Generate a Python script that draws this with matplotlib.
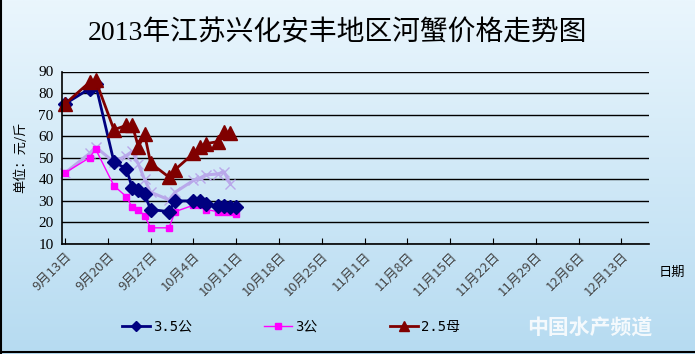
import numpy as np
import matplotlib
matplotlib.use('Agg')
import matplotlib.pyplot as plt

plt.rcParams['font.family'] = ['Liberation Serif', 'Noto Sans CJK SC', 'DejaVu Sans']

# days counted from 9月13日
tick_labels = ['9月13日', '9月20日', '9月27日', '10月4日', '10月11日', '10月18日', '10月25日',
               '11月1日', '11月8日', '11月15日', '11月22日', '11月29日', '12月6日', '12月13日']

days_35 = [0, 4, 5, 8, 10, 11, 12, 13, 14, 17, 18, 21, 22, 23, 25, 26, 27, 28]
price_35 = [75, 82, 84, 48, 45, 36, 35, 33, 26, 25, 30, 30, 30, 28.5, 27.5, 27.5, 27, 27]

days_3 = [0, 4, 5, 8, 10, 11, 12, 13, 14, 17, 18, 21, 22, 23, 25, 26, 27, 28]
price_3 = [43, 50, 54, 37, 32, 27, 26, 23, 17.5, 17.5, 25, 28, 28, 26, 25, 25, 25, 24]

days_25 = [0, 4, 5, 8, 10, 11, 12, 13, 14, 17, 18, 21, 22, 23, 25, 26, 27]
price_25 = [75, 85, 86, 63, 65, 65, 55, 61, 47.5, 41, 44.5, 52, 55, 56.5, 57.5, 62, 61.5]

# unlabeled lavender series
days_x = [0, 4, 5, 8, 10, 11, 12, 13, 14, 17, 18, 21, 22, 23, 25, 26, 27]
price_x = [43, 52, 55, 48, 51, 53, 47, 40, 34, 30.5, 34, 39.5, 40.5, 42, 42.5, 43.5, 38]

fig = plt.figure(figsize=(6.95, 3.54), dpi=100)

# gradient background
bg = fig.add_axes([0, 0, 1, 1], zorder=-10)
top = np.array([234, 246, 253]) / 255
bot = np.array([182, 219, 241]) / 255
grad = np.linspace(0, 1, 256)[:, None, None] * (bot - top) + top
bg.imshow(np.repeat(grad, 2, axis=1), aspect='auto', extent=[0, 1, 0, 1])
bg.axis('off')
bg.plot([0.002, 0.002], [0, 1], color='black', lw=1.5)
bg.plot([0, 1], [0.006, 0.006], color='black', lw=1.5)
bg.set_xlim(0, 1)
bg.set_ylim(0, 1)

ax = fig.add_axes([62 / 695, 1 - 244 / 354, 587 / 695, 172.5 / 354])
ax.patch.set_alpha(0)

ax.plot(days_x, price_x, color='#b9a8ea', lw=2.2, marker='x', ms=7, mew=1, clip_on=False)
ax.plot(days_3, price_3, color='#ff00ff', lw=1, marker='s', ms=5, clip_on=False, label='3公')
ax.plot(days_35, price_35, color='#000080', lw=2, marker='D', ms=7, clip_on=False, label='3.5公')
ax.plot(days_25, price_25, color='#800000', lw=2, marker='^', ms=10, clip_on=False, label='2.5母')

ax.set_ylim(10, 90)
ax.set_xlim(-0.5, 95.5)
ax.set_yticks(range(10, 91, 10))
ax.set_xticks(range(0, 92, 7))
ax.set_xticklabels(tick_labels, rotation=45, ha='right', va='top', rotation_mode='anchor',
                   fontsize=9.5, color='#444444', family=['Noto Sans CJK SC'])
ax.tick_params(axis='y', labelsize=11, length=0, pad=6)
ax.tick_params(axis='x', length=4, direction='in', pad=4)
ax.yaxis.grid(True, color='black', lw=1)
ax.set_axisbelow(True)
for s in ['top', 'right']:
    ax.spines[s].set_visible(False)
ax.spines['left'].set_linewidth(1.2)
ax.spines['bottom'].set_linewidth(1.2)
ax.set_ylabel('单位：元/斤', fontsize=9.5, family=['Noto Sans CJK SC'], labelpad=8)

fig.text(337 / 695, 1 - 33 / 354, '2013年江苏兴化安丰地区河蟹价格走势图', ha='center', va='center',
         fontsize=20)
fig.text(672 / 695, 1 - 272 / 354, '日期', ha='center', va='center', fontsize=9.5,
         family=['Noto Sans CJK SC'])
fig.text(590 / 695, 1 - 328 / 354, '中国水产频道', ha='center', va='center', fontsize=15,
         color='white', alpha=0.85, style='italic', fontweight='bold', family=['Noto Sans CJK SC'])

h, l = ax.get_legend_handles_labels()
order = [1, 0, 2]
fig.legend([h[i] for i in order], [l[i] for i in order], loc='center', ncol=3,
           bbox_to_anchor=(291 / 695, 1 - 327 / 354), frameon=False,
           columnspacing=5.2, handlelength=2, handletextpad=0.25, markerscale=0.75,
           prop={'family': ['DejaVu Sans Mono', 'Noto Sans CJK SC'], 'size': 10})

fig.savefig('out.png', dpi=100)
